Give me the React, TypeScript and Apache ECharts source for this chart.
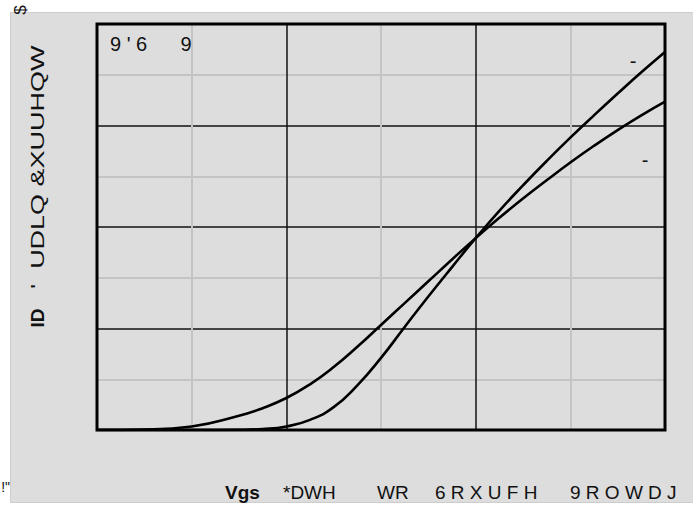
import React, { useEffect, useRef } from "react";
import * as echarts from "echarts";

// Gate voltage (x) samples and drain current of the two curves
const vgs = [0, 0.5, 1, 1.5, 1.75, 2, 2.25, 2.5, 2.75, 3, 3.25, 3.5, 3.75, 4, 4.25, 4.5, 4.75, 5, 5.25, 5.5, 5.75, 6];
const idSteep = [0, 0, 0, 0.005, 0.02, 0.07, 0.2, 0.45, 0.88, 1.42, 2.03, 2.63, 3.21, 3.78, 4.32, 4.82, 5.3, 5.76, 6.2, 6.63, 7.05, 7.45];
const idFlat = [0, 0.01, 0.07, 0.28, 0.43, 0.63, 0.9, 1.24, 1.64, 2.07, 2.5, 2.93, 3.36, 3.78, 4.18, 4.56, 4.92, 5.27, 5.6, 5.91, 6.2, 6.47];

const X_MIN = 0;
const X_MAX = 6;
const Y_MIN = 0;
const Y_MAX = 8;

const FONT = "'Liberation Sans', Arial, sans-serif";

export default function App() {
  const ref = useRef<HTMLDivElement>(null);

  useEffect(() => {
    if (!ref.current) return;
    const chart = echarts.init(ref.current, null, { renderer: "svg" });
    const toPairs = (ys: number[]) => vgs.map((x, i) => [x, ys[i]]);
    const axisCommon = {
      type: "value" as const,
      axisLabel: { show: false },
      axisTick: { show: false },
      axisLine: { show: false },
      splitLine: { show: true, lineStyle: { color: "#111", width: 1.5 } },
      minorTick: { show: false, splitNumber: 2 },
      minorSplitLine: { show: true, lineStyle: { color: "#c4c4c4", width: 2 } },
    };
    const txt = (
      text: string,
      x: number,
      y: number,
      opts: any = {}
    ) => ({
      type: "text",
      x,
      y,
      rotation: opts.rotation || 0,
      scaleX: opts.scaleX || 1,
      z: 100,
      silent: true,
      style: {
        text,
        fontSize: opts.fontSize || 19,
        fontWeight: opts.fontWeight || "normal",
        fontFamily: FONT,
        fill: "#111",
        align: opts.align || "left",
        verticalAlign: "middle",
        textAlign: opts.align || "left",
        textVerticalAlign: "middle",
      },
    });

    chart.setOption({
      animation: false,
      backgroundColor: "#ffffff",
      grid: {
        left: 97,
        top: 24,
        width: 568,
        height: 406,
        show: true,
        borderColor: "#000",
        borderWidth: 3,
        backgroundColor: "transparent",
        z: 5,
      },
      xAxis: { ...axisCommon, min: X_MIN, max: X_MAX, interval: 2 },
      yAxis: { ...axisCommon, min: Y_MIN, max: Y_MAX, interval: 2 },
      series: [
        {
          type: "line",
          data: toPairs(idSteep),
          showSymbol: false,
          symbol: "none",
          smooth: 0.5,
          lineStyle: { color: "#000", width: 2.6 },
          z: 3,
        },
        {
          type: "line",
          data: toPairs(idFlat),
          showSymbol: false,
          symbol: "none",
          smooth: 0.5,
          lineStyle: { color: "#000", width: 2.6 },
          z: 3,
        },
      ],
      graphic: [
        {
          type: "rect",
          z: -100,
          silent: true,
          shape: { x: 10.5, y: 12.5, width: 700, height: 490 },
          style: { fill: "#dddddd", stroke: "#cdcdcd", lineWidth: 1 },
        },
        txt("9 ' 6      9", 110, 44, { fontSize: 20 }),
        txt("-", 633, 61, { fontSize: 20, align: "center" }),
        txt("-", 645, 160, { fontSize: 20, align: "center" }),
        txt("ID", 37, 318, { fontWeight: "bold", rotation: Math.PI / 2, align: "center" }),
        txt("'  UDLQ &XUUHQW", 37, 289, { rotation: Math.PI / 2, scaleX: 1.42 }),
        txt("$", 20, 10, { rotation: Math.PI / 2, fontSize: 17, align: "center" }),
        txt('!"', 10, 487, { fontSize: 14, align: "right" }),
        txt("Vgs", 225, 492, { fontWeight: "bold" }),
        txt("*DWH", 283, 492),
        txt("WR", 377, 492),
        txt("6 R X U F H", 435, 492),
        txt("9 R O W D J", 570, 492),
      ],
    });
    return () => chart.dispose();
  }, []);

  return (
    <div
      ref={ref}
      style={{ position: "fixed", left: 0, top: 0, width: 693, height: 506 }}
    />
  );
}
